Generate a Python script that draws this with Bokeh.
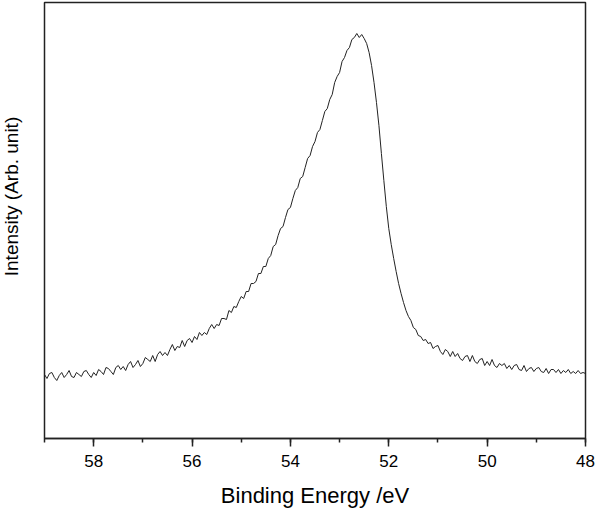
import numpy as np
from bokeh.plotting import figure
from bokeh.models import Range1d, SingleIntervalTicker, Label
from bokeh.embed import file_html
from bokeh.resources import INLINE

# Binding energy grid (eV), 0.05 eV step from 59.00 down to 48.00
energy = np.round(np.linspace(59.0, 48.0, 221), 2)

# Intensity (arbitrary units)
intensity = [
    # 59.00 - 56.00
    64, 60, 65, 66, 61, 58, 63, 66, 61, 64,
    68, 62, 61, 66, 64, 62, 67, 68, 64, 61,
    66, 63, 69, 67, 64, 71, 70, 67, 64, 71,
    73, 69, 72, 68, 74, 77, 71, 74, 78, 72,
    75, 81, 79, 77, 83, 77, 84, 87, 83, 86,
    83, 89, 94, 88, 92, 91, 98, 92, 98, 100,
    96,
    # 55.95 - 54.50
    102, 99, 106, 103, 106, 104, 110, 114, 110, 114,
    113, 120, 120, 119, 128, 126, 132, 131, 137, 142,
    140, 147, 147, 155, 155, 157, 165, 165, 172, 172,
    # 54.45 - 52.70
    180, 183, 192, 194, 203, 210, 212, 221, 229, 231,
    240, 248, 251, 260, 262, 271, 280, 283, 292, 297,
    306, 309, 318, 327, 330, 339, 344, 356, 362, 366,
    377, 381, 388, 391, 399, 401,
    # 52.65 - 52.40
    405, 401, 404, 400, 395, 386,
    # 52.35 - 51.25
    373, 356, 336, 313, 285, 258, 232, 210, 194, 180,
    167, 155, 145, 136, 128, 122, 118, 111, 109, 103,
    102, 98, 99,
    # 51.20 - 48.00
    95, 96, 90, 92, 93, 87, 84, 89, 87, 82,
    87, 82, 85, 80, 78, 82, 83, 77, 83, 77,
    75, 79, 80, 73, 77, 73, 79, 73, 71, 75,
    73, 75, 70, 73, 69, 73, 74, 69, 68, 73,
    67, 70, 71, 67, 70, 71, 67, 66, 70, 65,
    69, 69, 66, 69, 65, 68, 66, 69, 65, 67,
    65, 68, 65, 66, 65,
]

x_title = "Binding Energy /eV"
y_title = "Intensity (Arb. unit)"
FONT = "Liberation Sans"

p = figure(width=596, height=516, output_backend="svg", toolbar_location=None,
           x_range=Range1d(59, 48), y_range=Range1d(0, 436))
p.min_border_left = 44
p.min_border_right = 11
p.min_border_top = 2
p.min_border_bottom = 78
p.background_fill_color = "white"
p.border_fill_color = "white"
p.outline_line_color = "#222222"
p.outline_line_width = 1.5
p.grid.visible = False
p.yaxis.visible = False

xa = p.xaxis[0]
xa.ticker = SingleIntervalTicker(interval=2, num_minor_ticks=2)
xa.axis_line_color = "#222222"
xa.axis_line_width = 1.5
xa.major_tick_line_color = "#222222"
xa.major_tick_line_width = 1.5
xa.minor_tick_line_color = "#222222"
xa.minor_tick_line_width = 1.5
xa.major_tick_in = 0
xa.major_tick_out = 8
xa.minor_tick_in = 0
xa.minor_tick_out = 4
xa.major_label_text_font = FONT
xa.major_label_text_font_size = "17px"
xa.major_label_text_color = "black"
xa.major_label_standoff = 8
xa.axis_label = x_title
xa.axis_label_text_font = FONT
xa.axis_label_text_font_size = "22px"
xa.axis_label_text_font_style = "normal"
xa.axis_label_text_color = "black"
xa.axis_label_standoff = 13

p.line(energy, intensity, line_color="#222222", line_width=1)

ylab = Label(x=-12, y=242, x_units="screen", y_units="screen", text=y_title,
             angle=np.pi / 2, text_align="center", text_baseline="alphabetic",
             text_font=FONT, text_font_size="19px", text_color="black")
p.add_layout(ylab, "left")

open("out.html", "w").write(file_html(p, INLINE))
